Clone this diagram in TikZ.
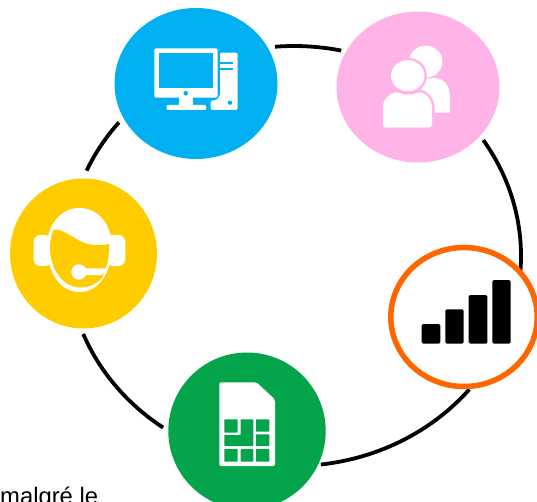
\documentclass[tikz,border=0pt]{standalone}
\usepackage{fontspec}
\setmainfont{Liberation Sans}
\usetikzlibrary{calc}
\definecolor{cblue}{HTML}{00B0F0}
\definecolor{cpink}{HTML}{FFB3E6}
\definecolor{cyellow}{HTML}{FFCC00}
\definecolor{cgreen}{HTML}{04A44B}
\definecolor{corange}{HTML}{FF6600}
\tikzset{
  ringarc/.style={draw=black,line width=3.8pt},
  ico/.style={fill=white,draw=none},
  chip/.style={fill=cgreen,draw=none,rounded corners=0.6pt},
  lab/.style={font=\fontsize{23.8pt}{26pt}\selectfont,inner sep=0pt,anchor=base west}
}
\begin{document}
\begin{tikzpicture}[x=1pt,y=-1pt]
\useasboundingbox (0,0) rectangle (537,502);
\clip (0,0) rectangle (537,502);
\coordinate (ring) at (294,256);
\foreach \n/\a in {as/-94.8,bs/-33.5,cs/39.4,ds/125.2,es/204}{
  \coordinate (\n) at ($(ring)+(\a:227 and 210)$);}
% ring arcs
\draw[ringarc] (as) arc[start angle=-94.8,end angle=-78,x radius=227,y radius=210];
\draw[ringarc] (bs) arc[start angle=-33.5,end angle=5,x radius=227,y radius=210];
\draw[ringarc] (cs) arc[start angle=39.4,end angle=83.2,x radius=227,y radius=210];
\draw[ringarc] (ds) arc[start angle=125.2,end angle=158.2,x radius=227,y radius=210];
\draw[ringarc] (es) arc[start angle=204,end angle=219.5,x radius=227,y radius=210];
% discs
\fill[cblue] (196,83.5) ellipse[x radius=81.5,y radius=75.5];
\fill[cpink] (418,87) ellipse[x radius=81.5,y radius=75.5];
\fill[cyellow] (83.5,253.5) ellipse[x radius=73.5,y radius=75];
\fill[cgreen] (247,431) ellipse[x radius=78.7,y radius=78.5];
\draw[corange,fill=white,line width=5.5pt] (464,317) ellipse[x radius=73.2,y radius=69.5];
% computer
\fill[ico,rounded corners=2pt] (154.3,48.3) rectangle (217.7,97.7);
\fill[cblue] (159,52.7) rectangle (213.3,88.3);
\fill[cblue] (185.7,93.3) circle[radius=2.3];
\fill[ico] (179,97) rectangle (193.3,105.5);
\fill[ico,rounded corners=1pt] (166.7,105) rectangle (206,110);
\fill[ico,rounded corners=2pt] (220,52.7) -- (237.7,52.7) -- (237.7,110) -- (210.7,110) -- (210.7,100.5) -- (216,100.5) -- (220,96) -- cycle;
\fill[cblue] (220,62.3) rectangle (232.7,64.3);
\fill[cblue] (220,67.7) rectangle (232.7,69.7);
\fill[cblue] (230,102.7) circle[radius=2.2];
% people
\fill[ico] (425.7,61.7) ellipse[x radius=16.7,y radius=16];
\fill[ico] (420,79) -- (436,78) .. controls (445,79) and (450,87) .. (450,97) -- (450,112.7) -- (425,112.7) -- cycle;
\fill[cpink] (407.7,75.7) ellipse[x radius=19.2,y radius=18];
\fill[ico] (407.7,75.7) ellipse[x radius=16.7,y radius=15.5];
\fill[ico,rounded corners=3pt,preaction={draw=cpink,line width=5pt}] (383,127.5) -- (383,108) .. controls (383,99) and (391,93) .. (398,92) .. controls (403,95) and (413,95) .. (418,92) .. controls (426,93) and (432,100) .. (432,110) -- (432,127.5) -- cycle;
\fill[cpink] (378,128) rectangle (440,134);
\fill[ico,rounded corners=3pt] (383,127.5) -- (383,115) -- (432,115) -- (432,127.5) -- cycle;
% headset
\fill[ico,rounded corners=7pt] (33.5,235) rectangle (52,266);
\fill[ico,rounded corners=7pt] (106,235) rectangle (125.3,266);
\fill[ico] (79.5,208) .. controls (99,208) and (112,226) .. (112,246) .. controls (112,272) and (99,292) .. (79.5,292) .. controls (60,292) and (47,272) .. (47,246) .. controls (47,226) and (60,208) .. (79.5,208) -- cycle;
\fill[cyellow] (54,229.5) .. controls (66,229) and (76,242) .. (90,244.5) .. controls (96,245.5) and (102,245.5) .. (109,244) .. controls (109.5,256) and (107,268) .. (101,279) .. controls (96,284) and (89,287.5) .. (80,287.5) .. controls (62,287) and (50,268) .. (50,248) .. controls (50,241) and (51,235) .. (54,229.5) -- cycle;
\fill[ico] (79,272) circle[radius=7.7];
\fill[ico] (84,268.3) -- (108,268.3) -- (101.5,275) -- (84,275) -- cycle;
% signal bars
\fill[black,rounded corners=1.5pt] (421.7,324) rectangle (440.3,343.7);
\fill[black,rounded corners=1.5pt] (445.3,309.3) rectangle (463.7,343.7);
\fill[black,rounded corners=1.5pt] (468.7,295) rectangle (487.3,343.7);
\fill[black,rounded corners=1.5pt] (492.3,280) rectangle (510.7,343.7);
% SIM
\fill[ico,rounded corners=2pt] (219.3,382.3) -- (256.5,382.3) -- (275,399.5) -- (275,466) -- (219.3,466) -- cycle;
\fill[chip] (224.3,419.3) rectangle (237.7,432.5);
\fill[chip] (224.3,434.8) -- (240.7,434.8) -- (240.7,419.3) -- (253.3,419.3) -- (253.3,446) -- (224.3,446) -- cycle;
\fill[chip] (256,419.3) rectangle (269.3,431.7);
\fill[chip] (256,434.3) rectangle (269.3,446);
\fill[chip] (224.3,449) rectangle (237.7,461.7);
\fill[chip] (240.7,449) rectangle (253.3,461.7);
\fill[chip] (256,449) rectangle (269.3,461.7);
% text
\node[lab] (txt) at (0,504.5) {malgré le};
\end{tikzpicture}
\end{document}
